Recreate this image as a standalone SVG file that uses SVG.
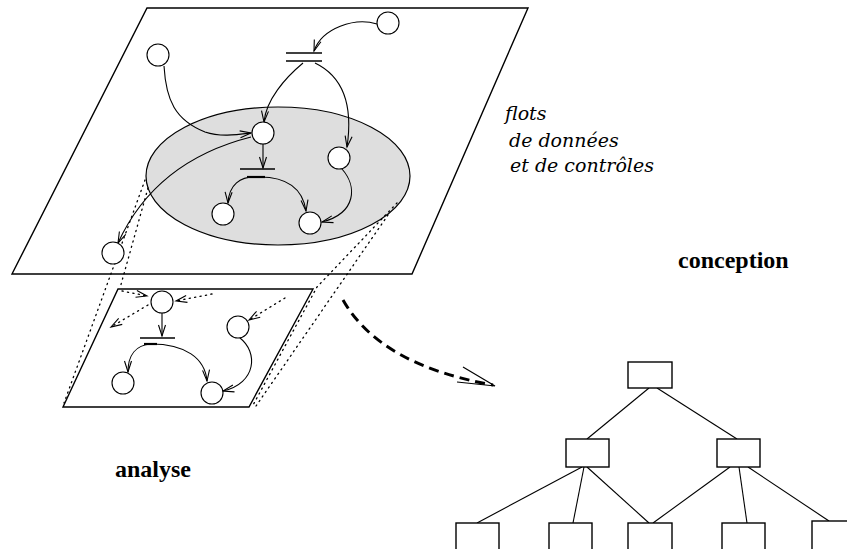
<svg xmlns="http://www.w3.org/2000/svg" width="847" height="549" viewBox="0 0 847 549">
<style>
.pl{fill:none;stroke:#000;stroke-width:1.4}
.nd{fill:#fff;stroke:#000;stroke-width:1.1}
.bx{fill:#fff;stroke:#000;stroke-width:1.4}
.c{fill:none;stroke:#000;stroke-width:1.1}
.a{marker-end:url(#ah)}
.dt{fill:none;stroke:#000;stroke-width:1.3;stroke-dasharray:1.2 4.3;stroke-linecap:round}
.bar{stroke:#000;stroke-width:1.6}
.tr{stroke:#000;stroke-width:1.1}
.it{font-family:"DejaVu Serif",serif;font-style:italic;font-size:19px}
.bd{font-family:"Liberation Serif",serif;font-weight:bold;font-size:24px}
</style>
<defs>
<marker id="ah" markerUnits="userSpaceOnUse" markerWidth="14" markerHeight="10" refX="11" refY="4" orient="auto" overflow="visible">
<path d="M0,0.5 L11,4 L0,7.5" fill="none" stroke="#000" stroke-width="1.1" stroke-dasharray="none"/>
</marker>
</defs>
<rect width="847" height="549" fill="#fff"/>
<g id="plan-flots">
<polygon class="pl" points="147,8 528,8 412,274 12,274"/>
<ellipse cx="278" cy="176" rx="132" ry="69" fill="#dedede" stroke="#000" stroke-width="1.2"/>
</g>
<g id="plan-analyse">
<polygon class="pl" points="118,289 313,289 249,407 63,407"/>
</g>
<g id="connectors">
<!-- projection dotted lines -->
<path class="dt" d="M145,180 L64,403"/>
<path class="dt" d="M148,188 L120,288"/>
<path class="dt" d="M397,203 L317,287 L252,407"/>
<path class="dt" d="M388,215 L256,406"/>
<!-- upper plane flows -->
<path class="c a" d="M377,24 C355,17 322,28 314,51"/>
<path class="c a" d="M303,63 C285,78 266,100 264,122"/>
<path class="c a" d="M315,63 C340,75 354,100 347,147"/>
<path class="c a" d="M164,66 C166,100 175,120 205,132 C220,137 235,135 251,133"/>
<path class="c a" d="M251,137 C180,155 140,195 118,243"/>
<path class="c a" d="M263,144 L263,168"/>
<path class="c a" d="M257,177 C240,176 229,185 228,203"/>
<path class="c a" d="M257,177 C287,176 303,189 306,211"/>
<path class="c a" d="M342,169 C357,186 357,213 322,222"/>
<line x1="247" y1="177" x2="265" y2="177" stroke="#000" stroke-width="2.2"/>
<!-- lower plane flows -->
<path class="dt a" d="M122,291 L147,296"/>
<path class="dt a" d="M212,294 L176,301"/>
<path class="dt a" d="M148,305 L111,327"/>
<path class="dt a" d="M285,298 L249,320"/>
<path class="c a" d="M162,313 L162,336"/>
<path class="c a" d="M151,344 C136,345 128,355 128,372"/>
<path class="c a" d="M151,344 C185,344 205,358 207,381"/>
<path class="c a" d="M240,338 C258,352 257,383 223,391"/>
<line x1="144" y1="344" x2="157" y2="344" stroke="#000" stroke-width="2.2"/>
<!-- analyse -> conception -->
<path d="M343,300 Q380,365 493,385" fill="none" stroke="#000" stroke-width="3" stroke-dasharray="10 6"/>
<path d="M463,367 L495,386 L457,382" fill="none" stroke="#000" stroke-width="1.2"/>
<!-- tree -->
<line class="tr" x1="649" y1="388" x2="587" y2="439"/>
<line class="tr" x1="657" y1="388" x2="737" y2="439"/>
<line class="tr" x1="582" y1="467" x2="477" y2="523"/>
<line class="tr" x1="584" y1="467" x2="573" y2="523"/>
<line class="tr" x1="587" y1="467" x2="649" y2="523"/>
<line class="tr" x1="730" y1="467" x2="653" y2="523"/>
<line class="tr" x1="739" y1="467" x2="747" y2="523"/>
<line class="tr" x1="748" y1="467" x2="829" y2="521"/>
</g>
<g id="bar-double">
<line class="bar" x1="286" y1="53" x2="322" y2="53"/>
<line class="bar" x1="286" y1="61" x2="322" y2="61"/>
</g>
<g id="bar-up"><line class="bar" x1="240" y1="169" x2="275" y2="169"/></g>
<g id="bar-low"><line class="bar" x1="140" y1="338" x2="175" y2="338"/></g>
<g id="n-topleft"><circle class="nd" cx="158" cy="55" r="11"/></g>
<g id="n-topright"><circle class="nd" cx="388" cy="23" r="11"/></g>
<g id="n-center"><circle class="nd" cx="263" cy="133" r="11"/></g>
<g id="n-right"><circle class="nd" cx="339" cy="158" r="11"/></g>
<g id="n-innerleft"><circle class="nd" cx="223" cy="214" r="11"/></g>
<g id="n-innerright"><circle class="nd" cx="310" cy="223" r="11"/></g>
<g id="n-out"><circle class="nd" cx="113" cy="253" r="11"/></g>
<g id="n-A"><circle class="nd" cx="162" cy="302" r="11"/></g>
<g id="n-B"><circle class="nd" cx="123" cy="383" r="11"/></g>
<g id="n-C"><circle class="nd" cx="212" cy="393" r="11"/></g>
<g id="n-D"><circle class="nd" cx="238" cy="327" r="11"/></g>
<g id="t-root"><rect class="bx" x="628" y="362" width="44" height="26"/></g>
<g id="t-l"><rect class="bx" x="566" y="439" width="43" height="28"/></g>
<g id="t-r"><rect class="bx" x="717" y="439" width="43" height="28"/></g>
<g id="t-1"><rect class="bx" x="456" y="523" width="43" height="30"/></g>
<g id="t-2"><rect class="bx" x="549" y="523" width="43" height="30"/></g>
<g id="t-3"><rect class="bx" x="628" y="523" width="44" height="30"/></g>
<g id="t-4"><rect class="bx" x="722" y="523" width="43" height="30"/></g>
<g id="t-5"><rect class="bx" x="812" y="521" width="44" height="32"/></g>
<g id="labels">
<text class="it" x="505" y="120">flots</text>
<text class="it" x="509" y="147">de données</text>
<text class="it" x="510" y="172">et de contrôles</text>
<text class="bd" x="678" y="268">conception</text>
<text class="bd" x="115" y="477">analyse</text>
</g>
</svg>
